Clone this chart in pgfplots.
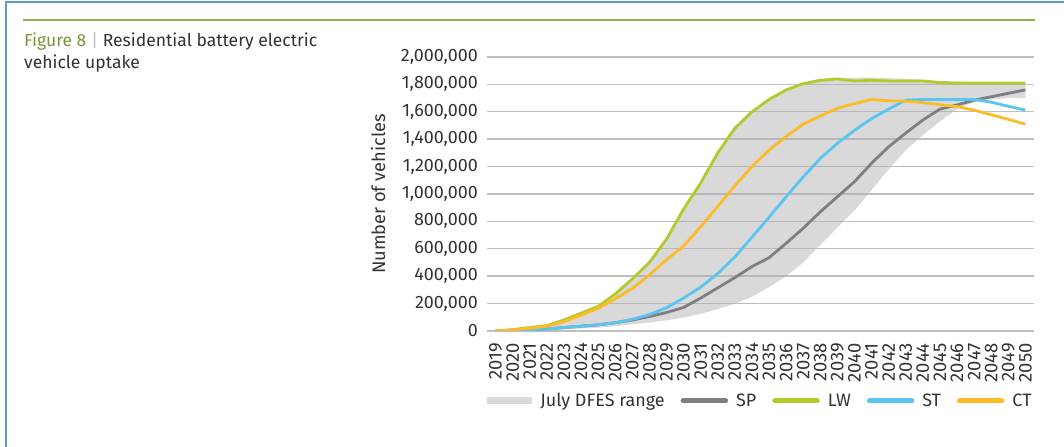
\documentclass[border=0pt]{standalone}
\usepackage{pgfplots}
\pgfplotsset{compat=1.18}
\usepackage{fontspec}
\setmainfont{Fira Sans}
\definecolor{borderblue}{HTML}{5B9BD5}
\definecolor{rulegreen}{HTML}{8DB04A}
\definecolor{figgreen}{HTML}{76983A}
\definecolor{txt}{HTML}{333333}
\definecolor{gridc}{HTML}{BFBFBF}
\definecolor{bandc}{HTML}{B0B0B0}
\definecolor{spc}{HTML}{7F7F7F}
\definecolor{lwc}{HTML}{B5C92A}
\definecolor{stc}{HTML}{59C5F0}
\definecolor{ctc}{HTML}{FCBC28}

\pgfplotstableread{
year SP LW ST CT
2019 0 0 0 0
2020 5000 10000 5000 8000
2021 10000 25000 10000 20000
2022 15000 40000 15000 35000
2023 25000 80000 25000 68000
2024 35000 130000 35000 115000
2025 45000 180000 45000 165000
2026 60000 270000 60000 235000
2027 80000 380000 85000 310000
2028 105000 500000 120000 410000
2029 135000 670000 170000 520000
2030 172000 890000 240000 620000
2031 240000 1080000 320000 760000
2032 315000 1300000 420000 910000
2033 390000 1480000 540000 1060000
2034 470000 1600000 685000 1200000
2035 535000 1690000 830000 1320000
2036 640000 1760000 980000 1420000
2037 750000 1805000 1125000 1510000
2038 870000 1830000 1260000 1570000
2039 980000 1840000 1370000 1625000
2040 1090000 1825000 1465000 1660000
2041 1225000 1830000 1550000 1690000
2042 1345000 1825000 1620000 1680000
2043 1445000 1825000 1685000 1678000
2044 1540000 1825000 1690000 1667000
2045 1620000 1812000 1690000 1652000
2046 1650000 1810000 1690000 1638000
2047 1685000 1810000 1690000 1612000
2048 1710000 1810000 1670000 1578000
2049 1735000 1810000 1640000 1545000
2050 1760000 1810000 1612000 1510000
}\datatable

% July DFES range: upper edge 2019->2050, then lower edge 2050->2019
\pgfplotstableread{
year value
2019 0
2020 10000
2021 25000
2022 40000
2023 80000
2024 130000
2025 180000
2026 270000
2027 380000
2028 500000
2029 670000
2030 890000
2031 1080000
2032 1300000
2033 1480000
2034 1600000
2035 1690000
2036 1760000
2037 1805000
2038 1835000
2039 1845000
2040 1850000
2041 1850000
2042 1845000
2043 1840000
2044 1835000
2045 1825000
2046 1820000
2047 1815000
2048 1815000
2049 1815000
2050 1815000
2050 1700000
2049 1700000
2048 1690000
2047 1670000
2046 1620000
2045 1530000
2044 1430000
2043 1320000
2042 1180000
2041 1030000
2040 880000
2039 755000
2038 630000
2037 500000
2036 400000
2035 320000
2034 250000
2033 200000
2032 160000
2031 125000
2030 98000
2029 78000
2028 62000
2027 48000
2026 35000
2025 25000
2024 18000
2023 12000
2022 8000
2021 5000
2020 2000
2019 0
}\bandtable

\begin{document}
\begin{tikzpicture}
\path[use as bounding box] (0bp,0bp) rectangle (1064bp,447bp);
\fill[white] (0bp,0bp) rectangle (1064bp,447bp);
\draw[borderblue, line width=2.5bp] (6bp,0bp) -- (6bp,445bp) -- (1064bp,445bp);
\draw[rulegreen, line width=1.4bp] (23bp,427bp) -- (1035bp,427bp);
\node[anchor=base west, inner sep=0pt, text=txt, font=\fontsize{17.6}{21}\selectfont] at (24bp,400bp)
  {\textcolor{figgreen}{Figure 8} \textcolor{gridc}{|} Residential battery electric};
\node[anchor=base west, inner sep=0pt, text=txt, font=\fontsize{17.6}{21}\selectfont] at (24bp,378bp)
  {vehicle uptake};
\begin{axis}[
  at={(487bp,116bp)}, anchor=south west,
  width=547bp, height=274bp, scale only axis,
  xmin=2018.5, xmax=2050.5, ymin=0, ymax=2000000,
  axis line style={draw=none},
  major tick length=0pt,
  xtick={2019,...,2050},
  ytick={0,200000,...,2000000},
  scaled y ticks=false,
  ymajorgrids, grid style={gridc, line width=1.4bp},
  /pgf/number format/assume math mode=true,
  xticklabel style={yshift=-12bp, rotate=90, anchor=east, font=\fontsize{18.5}{18.5}\selectfont, text=txt, inner sep=0pt,
     /pgf/number format/1000 sep={}},
  yticklabel style={font=\fontsize{18}{18}\selectfont, text=txt, inner sep=0pt, xshift=-9bp,
     /pgf/number format/fixed, /pgf/number format/1000 sep={,}},
  ylabel={Number of vehicles},
  every axis y label/.style={at={(axis description cs:0,0.5)}, xshift=-109bp, rotate=90, anchor=center,
     font=\fontsize{18.3}{18.3}\selectfont, text=txt},
  legend style={at={(0.5,-0.255)}, anchor=center, draw=none, fill=none,
     font=\fontsize{18}{18}\selectfont, text=txt, legend columns=5,
     /tikz/every even column/.append style={column sep=14bp},
     /tikz/every odd column/.append style={column sep=6bp}},
  legend cell align=left,
]
\addplot[fill=bandc, fill opacity=0.48, draw=none,
  legend image code/.code={\fill[bandc, fill opacity=0.48] (0bp,-3.5bp) rectangle (45bp,3.5bp);}]
  table[x=year, y=value] {\bandtable} -- cycle;
\addlegendentry{July DFES range}
\pgfplotsset{every axis plot/.append style={line width=2.8bp, line join=round,
  legend image code/.code={\draw[##1, line width=5bp, line cap=round] (2.5bp,0bp) -- (45bp,0bp);}}}
\addplot[spc] table[x=year, y=SP] {\datatable};
\addlegendentry{SP}
\addplot[lwc] table[x=year, y=LW] {\datatable};
\addlegendentry{LW}
\addplot[stc] table[x=year, y=ST] {\datatable};
\addlegendentry{ST}
\addplot[ctc] table[x=year, y=CT] {\datatable};
\addlegendentry{CT}
\end{axis}
\end{tikzpicture}
\end{document}
